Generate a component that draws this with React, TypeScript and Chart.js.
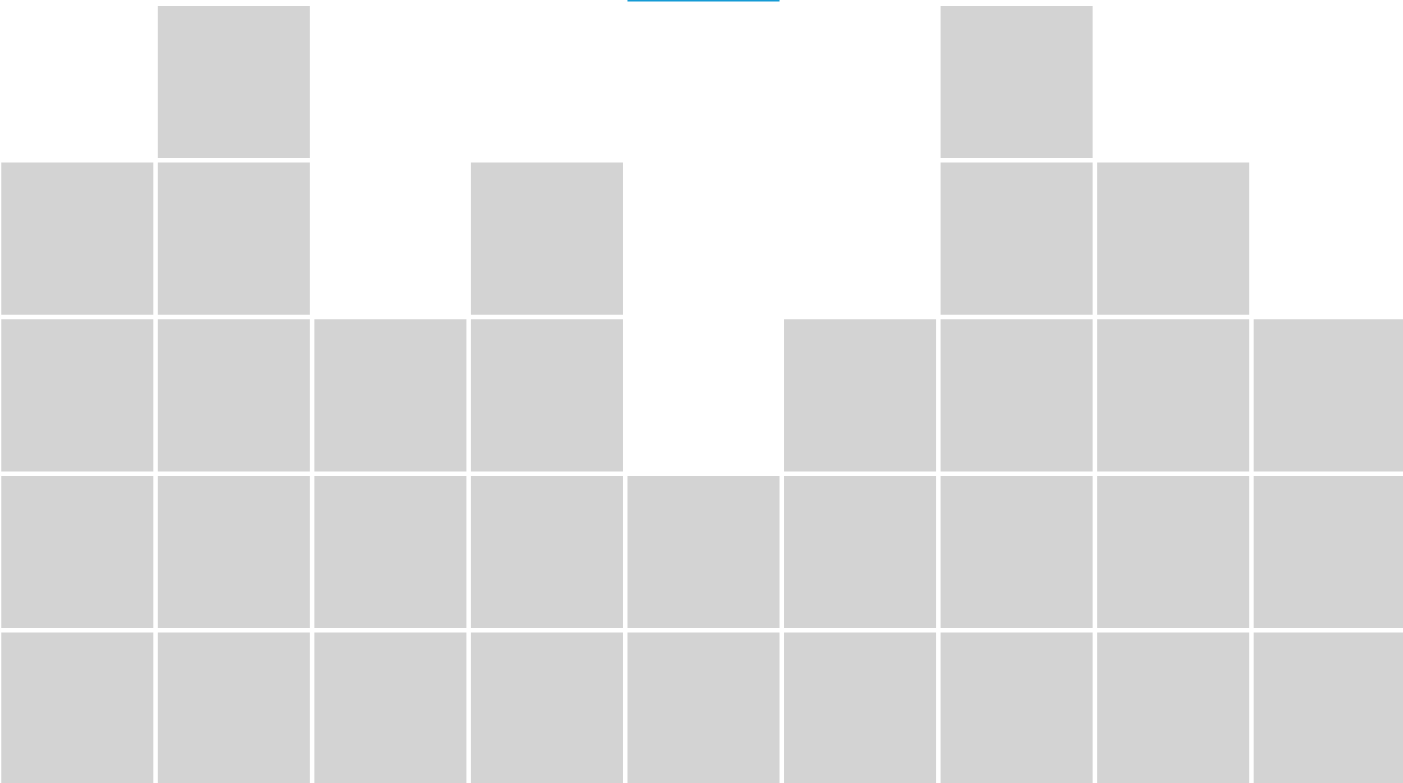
import React, { useEffect, useRef } from "react";
import { Chart, registerables } from "chart.js";

Chart.register(...registerables);

const categories = ["A", "B", "C", "D", "E", "F", "G", "H", "I"];
const counts = [4, 5, 3, 4, 2, 3, 5, 4, 3];
const levels = [0, 1, 2, 3, 4];
const highlight = [null, null, null, null, [5, 6], null, null, null, null];
const yMax = 6;

const GRAY = "#d3d3d3";
const BLUE = "#169bd5";

export default function App() {
  const ref = useRef<HTMLCanvasElement>(null);

  useEffect(() => {
    if (!ref.current) return;
    const common = {
      backgroundColor: GRAY,
      borderColor: "#ffffff",
      borderWidth: 2.25,
      borderSkipped: false as const,
      inflateAmount: 0,
      barPercentage: 1,
      categoryPercentage: 1,
      grouped: false,
    };
    const datasets: any[] = levels.map((k) => ({
      ...common,
      label: `level ${k + 1}`,
      data: counts.map((c) => (c > k ? [k, k + 1] : null)),
    }));
    datasets.push({
      ...common,
      label: "highlight",
      backgroundColor: BLUE,
      data: highlight,
    });
    const chart = new Chart(ref.current, {
      type: "bar",
      data: { labels: categories, datasets },
      options: {
        animation: false,
        responsive: true,
        maintainAspectRatio: false,
        layout: { padding: 0 },
        plugins: { legend: { display: false }, tooltip: { enabled: false }, title: { display: false } },
        scales: {
          x: { type: "category", display: false, offset: true },
          y: { min: 0, max: yMax, display: false },
        },
      },
    });
    return () => chart.destroy();
  }, []);

  return (
    <div style={{ position: "fixed", left: 0, top: 0, width: 1403, height: 783, overflow: "hidden", background: "#fff" }}>
      <div style={{ position: "absolute", left: -1, top: -153, width: 1409, height: 940 }}>
        <canvas ref={ref} />
      </div>
    </div>
  );
}
